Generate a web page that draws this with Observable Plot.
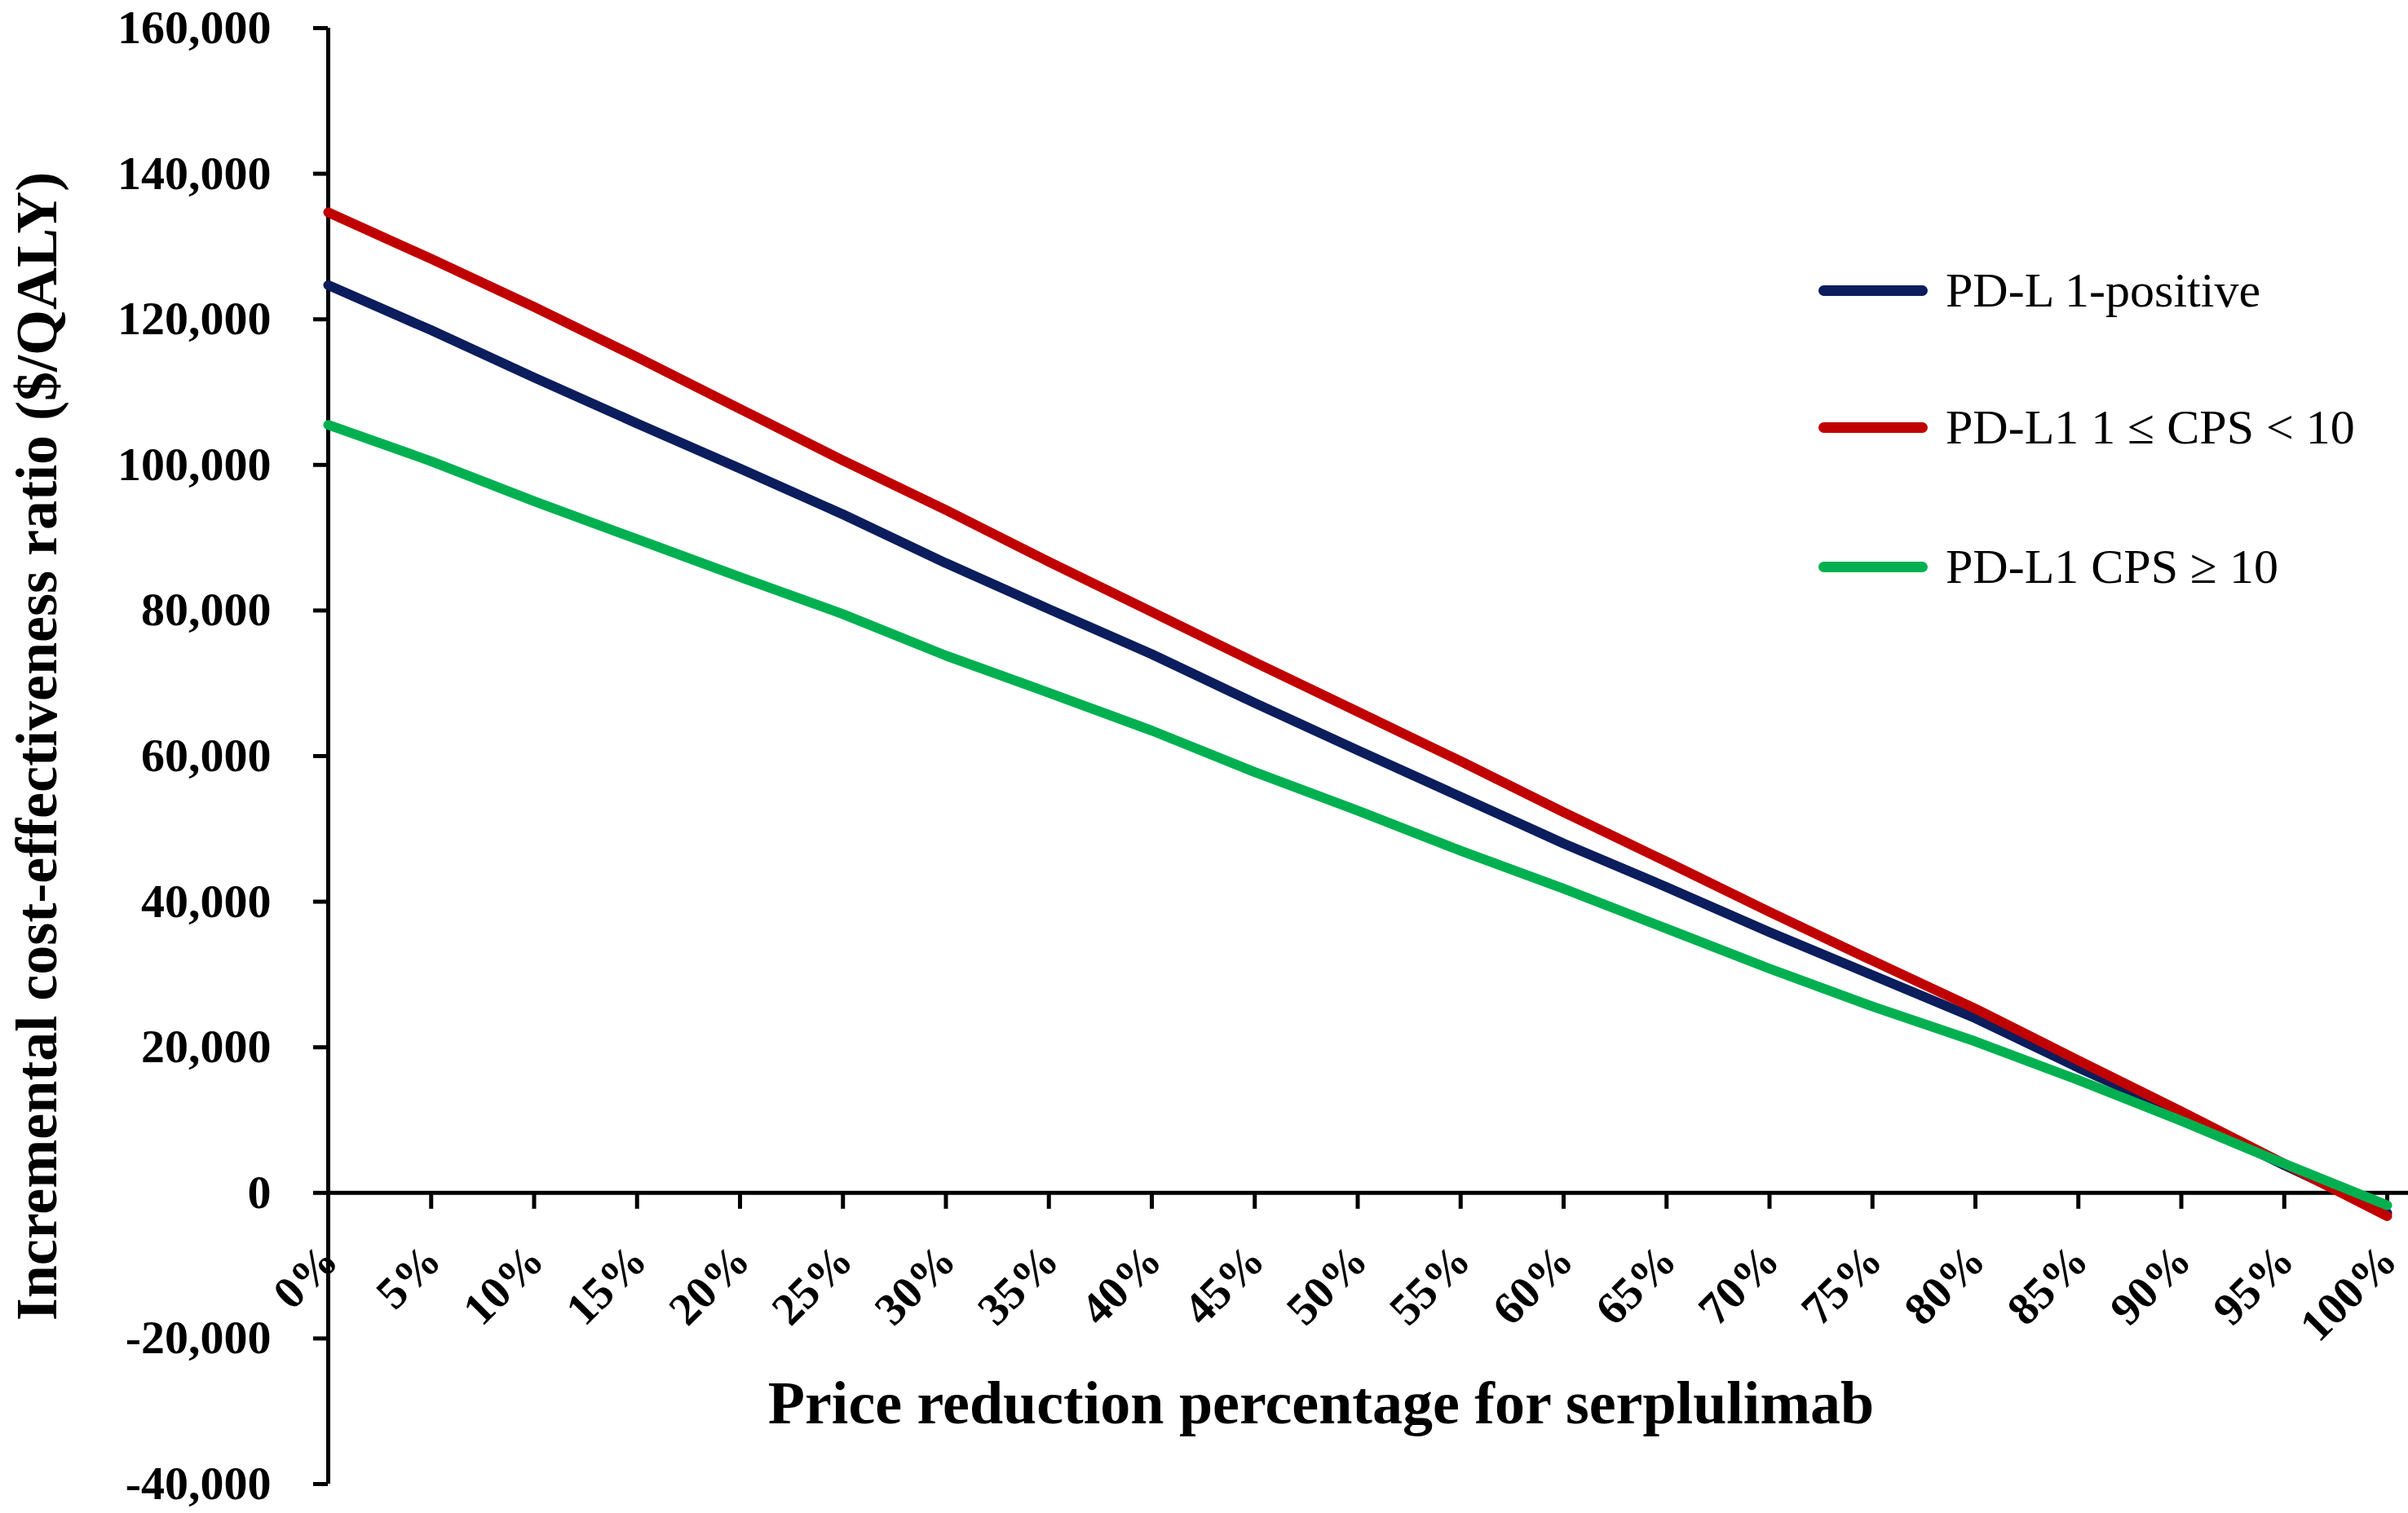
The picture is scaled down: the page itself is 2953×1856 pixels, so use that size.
<!DOCTYPE html>
<html><head><meta charset="utf-8">
<script src="https://cdn.jsdelivr.net/npm/d3@7"></script>
<script src="https://cdn.jsdelivr.net/npm/@observablehq/plot@0.6"></script>
<style>
html,body{margin:0;padding:0;background:#fff;}
#wrap{position:relative;width:2953px;height:1856px;overflow:hidden;}
#legend{position:absolute;left:2230px;top:0;font-family:"Liberation Serif","Times New Roman",serif;font-size:60px;color:#000;}
.item{position:absolute;left:0;white-space:nowrap;display:flex;align-items:center;height:70px;line-height:70px;}
.swatch{display:inline-block;width:134px;height:13px;border-radius:7px;margin-right:22px;}
</style></head>
<body><div id="wrap"><div id="legend"></div></div>
<script>
// ---- data ----
const pct = [0,5,10,15,20,25,30,35,40,45,50,55,60,65,70,75,80,85,90,95,100];
const seriesNames = ["PD-L 1-positive", "PD-L1 1 ≤ CPS < 10", "PD-L1 CPS ≥ 10"];
const positiveVals = [124700,118500,112000,105700,99500,93200,86500,80200,74000,67300,60800,54400,48000,42000,35800,29900,24000,17200,10800,3800,-2800];
const cps1to10Vals = [134700,128300,121700,114800,107700,100600,93800,86700,79800,72900,66100,59300,52300,45500,38600,31900,25300,18200,11200,4000,-3200];
const cps10Vals    = [105500,100500,95000,89800,84600,79500,73800,68700,63500,57800,52500,47000,41800,36300,30800,25600,20800,15500,9900,4000,-1700];
const seriesColors = ["#0b1d5c", "#c00000", "#00b050"];
const yTicks = [-40000,-20000,0,20000,40000,60000,80000,100000,120000,140000,160000];
const xTicks = [0,5,10,15,20,25,30,35,40,45,50,55,60,65,70,75,80,85,90,95,100];
const xTickLabels = ["0%","5%","10%","15%","20%","25%","30%","35%","40%","45%","50%","55%","60%","65%","70%","75%","80%","85%","90%","95%","100%"];
const xTitle = "Price reduction percentage for serplulimab";
const yTitle = "Incremental cost-effectiveness ratio ($/QALY)";

const seriesVals = [positiveVals, cps1to10Vals, cps10Vals];
const rows = [];
seriesNames.forEach((s, k) => pct.forEach((p, i) => rows.push({pct: p, value: seriesVals[k][i], series: s})));

const serif = "Liberation Serif, Times New Roman, serif";
const chart = Plot.plot({
  width: 2953, height: 1856,
  marginLeft: 402, marginRight: 26, marginTop: 34, marginBottom: 36,
  style: {fontFamily: serif, background: "#fff", color: "#000"},
  x: {domain: [0, 100], axis: null, label: null},
  y: {domain: [-40000, 160000], label: null},
  color: {domain: seriesNames, range: seriesColors},
  marks: [
    Plot.axisY(yTicks, {anchor: "left", label: null, tickSize: 18, tickPadding: 52, strokeWidth: 5,
      tickFormat: d => d.toLocaleString("en-US"), fontSize: 58, fontWeight: "bold", fontFamily: serif}),
    Plot.ruleX([0], {y1: -40000, y2: 160000, strokeWidth: 5}),
    Plot.ruleY([0], {strokeWidth: 5, insetRight: -26}),
    Plot.ruleX(xTicks, {x: d => d, y1: 0, y2: 0, insetBottom: -20, strokeWidth: 5}),
    Plot.text(xTicks, {x: d => d, y: 0, text: (d, i) => xTickLabels[i], rotate: -45, textAnchor: "end",
      lineAnchor: "bottom", dx: 15, dy: 86, fontSize: 56, fontWeight: "bold", fontFamily: serif}),
    Plot.line(rows, {x: "pct", y: "value", stroke: "series", z: "series", strokeWidth: 12,
      strokeLinecap: "round", strokeLinejoin: "round"}),
    Plot.text([xTitle], {frameAnchor: "bottom", dx: -45, dy: -75, fontSize: 74, fontWeight: "bold", fontFamily: serif}),
    Plot.text([yTitle], {frameAnchor: "left", textAnchor: "middle", rotate: -90, dx: -357, dy: -12,
      fontSize: 72, fontWeight: "bold", fontFamily: serif})
  ]
});
const wrap = document.getElementById("wrap");
wrap.insertBefore(chart, wrap.firstChild);

// legend
const legendCenters = [356, 524, 695];
const legend = document.getElementById("legend");
seriesNames.forEach((s, i) => {
  const item = document.createElement("div");
  item.className = "item";
  item.style.top = (legendCenters[i] - 35) + "px";
  const sw = document.createElement("span");
  sw.className = "swatch";
  sw.style.background = seriesColors[i];
  const tx = document.createElement("span");
  tx.textContent = s;
  item.appendChild(sw); item.appendChild(tx);
  legend.appendChild(item);
});
</script>
</body></html>
